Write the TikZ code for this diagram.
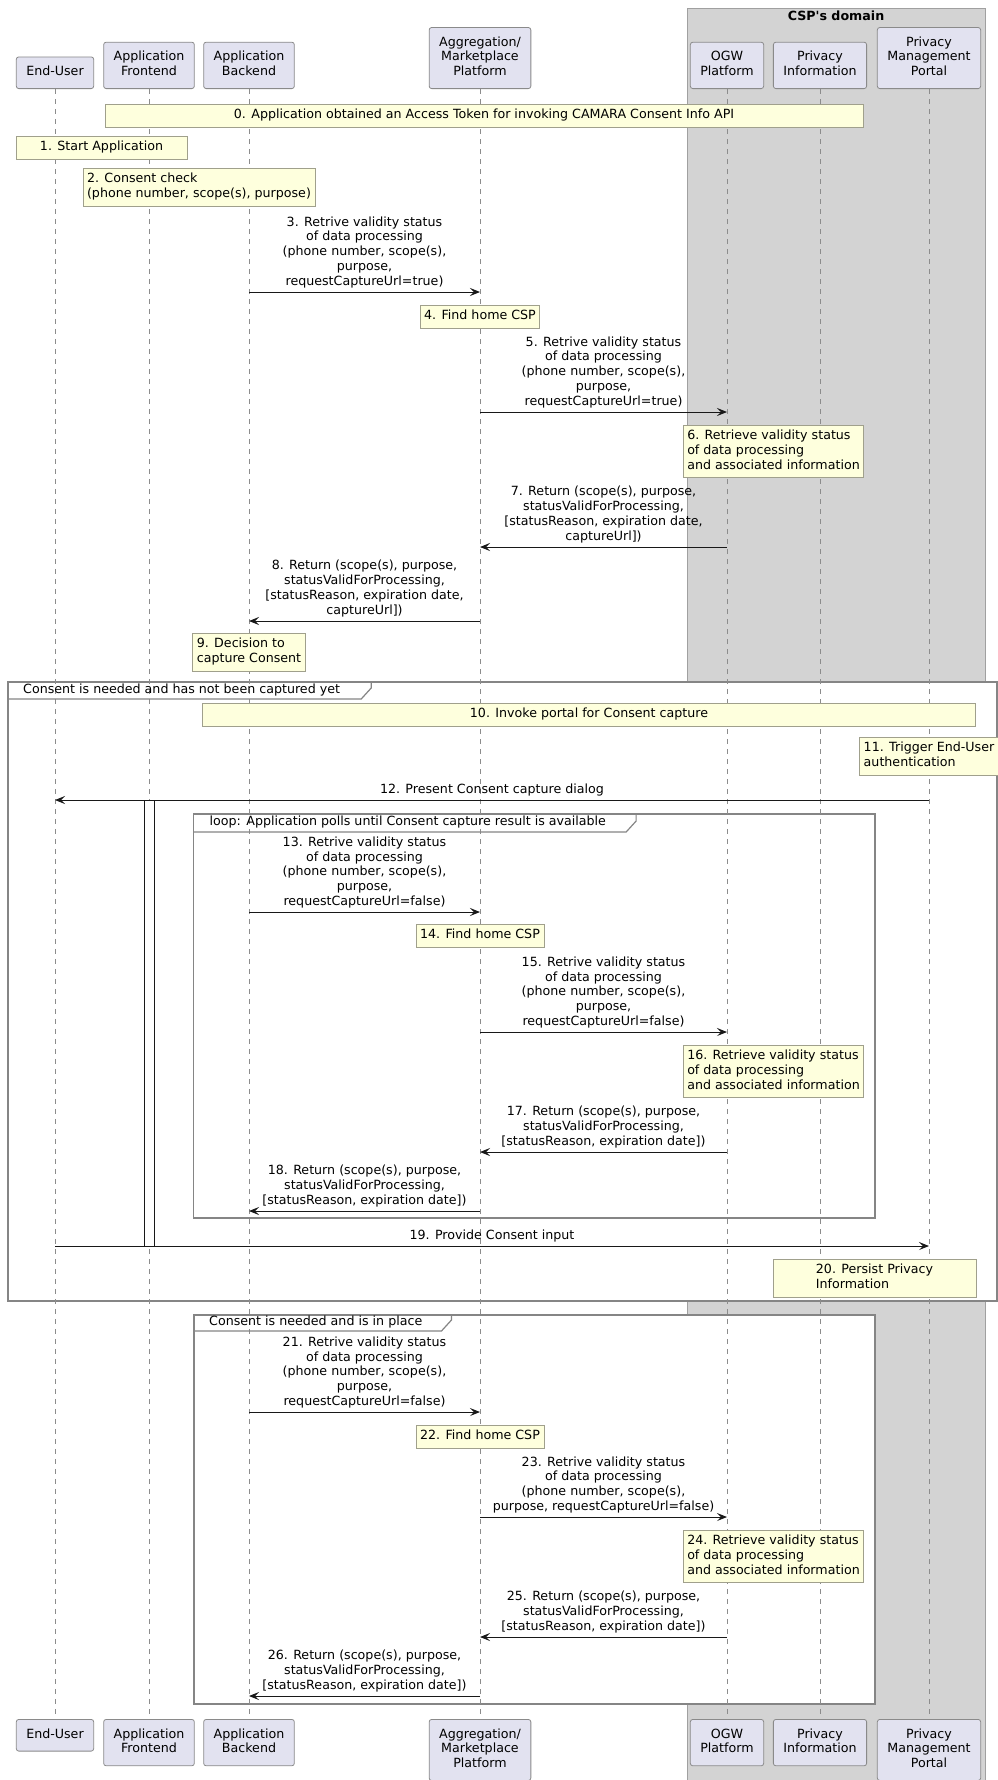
\documentclass[tikz,border=0pt]{standalone}
\usepackage{fontspec}
\setmainfont{DejaVu Sans}
\usetikzlibrary{arrows.meta,calc}
\definecolor{partfill}{HTML}{E2E2F0}
\definecolor{partline}{HTML}{8A8A8A}
\definecolor{notefill}{HTML}{FEFFDD}
\definecolor{noteline}{HTML}{A0A08C}
\definecolor{cspfill}{HTML}{D3D3D3}
\definecolor{cspline}{HTML}{A0A0A0}
\definecolor{grpline}{HTML}{858585}
\definecolor{lifeline}{HTML}{8C8C8C}
\definecolor{ink}{HTML}{181818}
\begin{document}
\begin{tikzpicture}[x=1pt,y=-1pt,
  every node/.style={font=\fontsize{12.65}{14.7}\selectfont},
  partbox/.style={draw=partline, fill=partfill, line width=0.8pt, rounded corners=2.5pt,
    align=center, inner xsep=10pt, inner ysep=8.5pt},
  notebox/.style={draw=noteline, fill=notefill, line width=0.8pt, align=left,
    inner xsep=4pt, inner ysep=4.1pt, anchor=north},
  lbl/.style={anchor=south, align=center, inner sep=0pt, yshift=2pt},
  msg/.style={draw=ink, line width=1pt, -{Stealth[length=10pt,width=8pt,inset=4pt]}},
  lifeln/.style={draw=lifeline, line width=0.7pt, dash pattern=on 5pt off 5pt},
  grpframe/.style={draw=grpline, line width=1.2pt},
  grpfill/.style={fill=white, draw=grpline, line width=1.2pt},
  grplabel/.style={anchor=west, inner sep=0pt},
  actbar/.style={draw=ink, fill=white, line width=0.8pt, minimum width=10pt, inner sep=0pt},
]
\useasboundingbox (0,0) rectangle (998,1780);

% CSP domain box
\draw[fill=cspfill, draw=cspline, line width=1pt] (687,8) rectangle (985,1790);
\node[font=\fontsize{12.65}{14.7}\selectfont\bfseries, inner sep=0pt] (csptitle) at (836,15.5) {CSP\textquotesingle s domain};

% group backgrounds
\draw[grpfill] (8,682) rectangle (997,1301);
\draw[grpfill] (193.5,814) rectangle (875,1218);
\draw[grpfill] (194,1315) rectangle (875,1704);

% participants (top)
\node[partbox, anchor=south] (eu)  at (55,89)  {\strut End-User};
\node[partbox, anchor=south] (fe)  at (149,89) {\strut Application\\Frontend\strut};
\node[partbox, anchor=south] (be)  at (249,89) {\strut Application\\Backend\strut};
\node[partbox, anchor=south] (ag)  at (480,89) {\strut Aggregation/\\Marketplace\\Platform\strut};
\node[partbox, anchor=south] (ogw) at (727,89) {\strut OGW\\Platform\strut};
\node[partbox, anchor=south] (pi)  at (820,89) {\strut Privacy\\Information\strut};
\node[partbox, anchor=south] (pmp) at (929,89) {\strut Privacy\\Management\\Portal\strut};

% participants (bottom)
\node[partbox, anchor=north] (eu2)  at (55,1719)  {\strut End-User};
\node[partbox, anchor=north] (fe2)  at (149,1719) {\strut Application\\Frontend\strut};
\node[partbox, anchor=north] (be2)  at (249,1719) {\strut Application\\Backend\strut};
\node[partbox, anchor=north] (ag2)  at (480,1719) {\strut Aggregation/\\Marketplace\\Platform\strut};
\node[partbox, anchor=north] (ogw2) at (727,1719) {\strut OGW\\Platform\strut};
\node[partbox, anchor=north] (pi2)  at (820,1719) {\strut Privacy\\Information\strut};
\node[partbox, anchor=north] (pmp2) at (929,1719) {\strut Privacy\\Management\\Portal\strut};

% lifelines
\foreach \p in {eu,fe,be,ag,ogw,pi,pmp}
  \draw[lifeln] (\p.south) -- (\p2.north);

% group frames and tabs
\node[grplabel] (g1l) at (23,690.5) {\strut Consent is needed and has not been captured yet};
\coordinate (g1a) at ($(g1l.east)+(21,0)$);
\coordinate (g1b) at ($(g1l.east)+(31,0)$);
\draw[grpframe] (8,699) -- (g1a |- 0,699) -- (g1b |- 0,688) -- (g1b |- 0,682);

\node[grplabel] (lpl) at (209.5,823) {\strut loop: Application polls until Consent capture result is available};
\coordinate (lpa) at ($(lpl.east)+(20,0)$);
\coordinate (lpb) at ($(lpl.east)+(30,0)$);
\draw[grpframe] (193.5,832) -- (lpa |- 0,832) -- (lpb |- 0,821) -- (lpb |- 0,814);

\node[grplabel] (g2l) at (209,1323) {\strut Consent is needed and is in place};
\coordinate (g2a) at ($(g2l.east)+(19,0)$);
\coordinate (g2b) at ($(g2l.east)+(29,0)$);
\draw[grpframe] (194,1331) -- (g2a |- 0,1331) -- (g2b |- 0,1320) -- (g2b |- 0,1315);

% activation on the frontend
\node[actbar, anchor=north, minimum height=446pt] (act) at (fe |- 0,800) {};

% notes
\node[notebox, minimum width=758pt] (n0) at (484,104) {\strut 0. Application obtained an Access Token for invoking CAMARA Consent Info API};
\node[notebox, minimum width=171pt] (n1) at (101.5,136) {\strut 1. Start Application};
\node[notebox] (n2) at (199,168) {\strut 2. Consent check\\(phone number, scope(s), purpose)\strut};
\node[notebox] (n4) at (ag |- 0,305) {\strut 4. Find home CSP};
\node[notebox] (n6) at (773.5,425) {\strut 6. Retrieve validity status\\of data processing\\and associated information\strut};
\node[notebox] (n9) at (be |- 0,633) {\strut 9. Decision to\\capture Consent\strut};
\node[notebox, minimum width=773pt] (n10) at (589,703) {\strut 10. Invoke portal for Consent capture};
\node[notebox] (n11) at (pmp |- 0,737) {\strut 11. Trigger End-User\\authentication\strut};
\node[notebox] (n14) at (ag |- 0,924) {\strut 14. Find home CSP};
\node[notebox] (n16) at (773.5,1045) {\strut 16. Retrieve validity status\\of data processing\\and associated information\strut};
\node[notebox, minimum width=203pt] (n20) at (874.5,1259) {\strut 20. Persist Privacy\\Information\strut};
\node[notebox] (n22) at (ag |- 0,1425) {\strut 22. Find home CSP};
\node[notebox] (n24) at (773.5,1530) {\strut 24. Retrieve validity status\\of data processing\\and associated information\strut};

% messages
\draw[msg] (be |- 0,292) -- node[lbl] {3. Retrive validity status\\of data processing\\(phone number, scope(s),\\purpose,\\requestCaptureUrl=true)\strut} (ag |- 0,292);
\draw[msg] (ag |- 0,412) -- node[lbl] {5. Retrive validity status\\of data processing\\(phone number, scope(s),\\purpose,\\requestCaptureUrl=true)\strut} (ogw |- 0,412);
\draw[msg] (ogw |- 0,547) -- node[lbl] {7. Return (scope(s), purpose,\\statusValidForProcessing,\\{}[statusReason, expiration date,\\captureUrl])\strut} (ag |- 0,547);
\draw[msg] (ag |- 0,621) -- node[lbl] {8. Return (scope(s), purpose,\\statusValidForProcessing,\\{}[statusReason, expiration date,\\captureUrl])\strut} (be |- 0,621);
\draw[msg] (pmp |- 0,800) -- node[lbl] {12. Present Consent capture dialog\strut} (eu |- 0,800);
\draw[msg] (be |- 0,912) -- node[lbl] {13. Retrive validity status\\of data processing\\(phone number, scope(s),\\purpose,\\requestCaptureUrl=false)\strut} (ag |- 0,912);
\draw[msg] (ag |- 0,1032) -- node[lbl] {15. Retrive validity status\\of data processing\\(phone number, scope(s),\\purpose,\\requestCaptureUrl=false)\strut} (ogw |- 0,1032);
\draw[msg] (ogw |- 0,1152) -- node[lbl] {17. Return (scope(s), purpose,\\statusValidForProcessing,\\{}[statusReason, expiration date])\strut} (ag |- 0,1152);
\draw[msg] (ag |- 0,1211) -- node[lbl] {18. Return (scope(s), purpose,\\statusValidForProcessing,\\{}[statusReason, expiration date])\strut} (be |- 0,1211);
\draw[msg] (eu |- 0,1246) -- node[lbl] {19. Provide Consent input\strut} (pmp |- 0,1246);
\draw[msg] (be |- 0,1412) -- node[lbl] {21. Retrive validity status\\of data processing\\(phone number, scope(s),\\purpose,\\requestCaptureUrl=false)\strut} (ag |- 0,1412);
\draw[msg] (ag |- 0,1517) -- node[lbl] {23. Retrive validity status\\of data processing\\(phone number, scope(s),\\purpose, requestCaptureUrl=false)\strut} (ogw |- 0,1517);
\draw[msg] (ogw |- 0,1637) -- node[lbl] {25. Return (scope(s), purpose,\\statusValidForProcessing,\\{}[statusReason, expiration date])\strut} (ag |- 0,1637);
\draw[msg] (ag |- 0,1696) -- node[lbl] {26. Return (scope(s), purpose,\\statusValidForProcessing,\\{}[statusReason, expiration date])\strut} (be |- 0,1696);
\end{tikzpicture}
\end{document}
